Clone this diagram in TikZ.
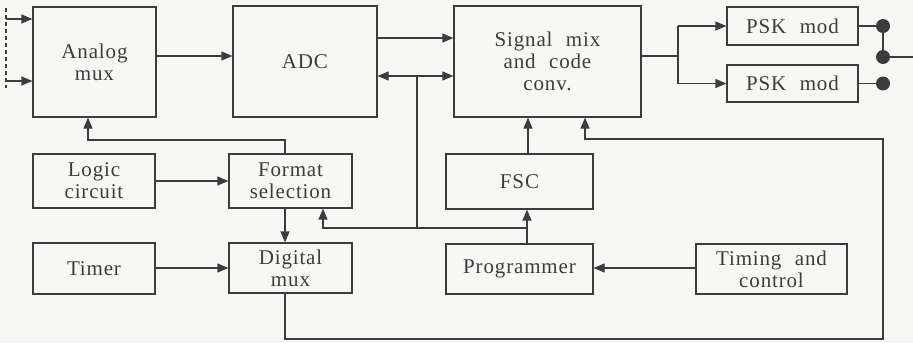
\documentclass[tikz,border=0pt]{standalone}
\usepackage{fontspec}
\setmainfont{Liberation Serif}[LetterSpace=4,WordSpace=2.2]
\usetikzlibrary{arrows.meta}
\definecolor{ink}{HTML}{3C3C3C}
\definecolor{paper}{HTML}{F7F7F5}
\tikzset{
  box/.style={draw=ink, line width=1.2pt, rectangle, inner sep=0pt, align=center,
    text=ink, font=\rmfamily\fontsize{21}{22}\selectfont},
  wire/.style={draw=ink, line width=1.2pt},
  arr/.style={wire, -{Triangle[length=11pt,width=9pt]}},
  barr/.style={wire, {Triangle[length=11pt,width=9pt]}-{Triangle[length=11pt,width=9pt]}},
  dot/.style={circle, fill=ink, inner sep=0pt, minimum size=14pt}
}
\begin{document}
\begin{tikzpicture}[x=1pt,y=-1pt]
\fill[paper] (0,0) rectangle (913,343);
\useasboundingbox (0,0) rectangle (913,343);
% boxes
\node[box, minimum width=123pt, minimum height=110pt] (amux) at (94.5,62) {Analog\\mux};
\node[box, minimum width=144pt, minimum height=111pt] (adc) at (305,61.5) {ADC};
\node[box, minimum width=187pt, minimum height=111pt] (smix) at (547.5,61.5) {Signal mix\\and code\\conv.};
\node[box, minimum width=131pt, minimum height=38pt] (psk1) at (792.5,26) {PSK mod};
\node[box, minimum width=131pt, minimum height=37pt] (psk2) at (792.5,83.5) {PSK mod};
\node[box, minimum width=122pt, minimum height=54pt] (logic) at (94,181) {Logic\\circuit};
\node[box, minimum width=123pt, minimum height=54pt] (fmt) at (290.5,181) {Format\\selection};
\node[box, minimum width=147pt, minimum height=55pt] (fsc) at (519.5,181.5) {FSC};
\node[box, minimum width=122pt, minimum height=51pt] (timer) at (94,268.5) {Timer};
\node[box, minimum width=123pt, minimum height=50pt] (dmux) at (290.5,268) {Digital\\mux};
\node[box, minimum width=147pt, minimum height=50pt] (prog) at (519.5,269) {Programmer};
\node[box, minimum width=151pt, minimum height=50pt] (tim) at (771.5,269) {Timing and\\control};
% dots
\node[dot] (d1) at (883,26) {};
\node[dot] (d2) at (883,57) {};
\node[dot] (d3) at (883,83.5) {};
% helper coordinates
\coordinate (dtop) at (6,8);
\coordinate (dbot) at (6,88);
\coordinate (in1) at (6,19);
\coordinate (in2) at (6,81);
\coordinate (split) at (678,56);
\coordinate (out) at (913,57);
\coordinate (j1) at (527,228);
\coordinate (j2) at (417,228);
\coordinate (fb) at (323,228);
\coordinate (lp1) at (285,339);
\coordinate (lp2) at (883,339);
\coordinate (lp3) at (883,139);
\coordinate (lp4) at (585,139);
\coordinate (fa1) at (285,140);
\coordinate (fa2) at (88,140);
% inputs
\draw[wire, dash pattern=on 4pt off 3pt] (dtop) -- (dbot);
\draw[arr] (in1) -- (in1 -| amux.west);
\draw[arr] (in2) -- (in2 -| amux.west);
% top row
\draw[arr] (amux.east |- 0,56) -- (adc.west |- 0,56);
\draw[arr] (adc.east |- 0,38) -- (smix.west |- 0,38);
\draw[barr] (adc.east |- 0,76) -- (smix.west |- 0,76);
\draw[wire] (smix.east |- split) -- (split);
\draw[wire] (split |- psk1.west) -- (split |- psk2.west);
\draw[arr] (split |- psk1.west) -- (psk1.west);
\draw[arr] (split |- psk2.west) -- (psk2.west);
\draw[wire] (psk1.east) -- (d1.center);
\draw[wire] (psk2.east) -- (d3.center);
\draw[wire] (d1.center) -- (d2.center);
\draw[wire] (d2.center) -- (out);
% format selection to analog mux
\draw[arr] (fmt.north -| fa1) -- (fa1) -- (fa2) -- (fa2 |- amux.south);
\draw[arr] (logic.east |- 0,181) -- (fmt.west |- 0,181);
\draw[arr] (fmt.south -| fa1) -- (dmux.north -| fa1);
\draw[arr] (timer.east |- 0,268) -- (dmux.west |- 0,268);
% programmer / FSC
\draw[arr] (prog.north -| j1) -- (fsc.south -| j1);
\draw[arr] (j1) -- (fb) -- (fb |- fmt.south);
\draw[wire] (j2) -- (j2 |- 0,76);
\draw[arr] (fsc.north -| 528,0) -- (smix.south -| 528,0);
\draw[arr] (tim.west |- 0,268) -- (prog.east |- 0,268);
% loop from digital mux to signal mix
\draw[arr] (dmux.south -| lp1) -- (lp1) -- (lp2) -- (lp3) -- (lp4) -- (lp4 |- smix.south);
\end{tikzpicture}
\end{document}
